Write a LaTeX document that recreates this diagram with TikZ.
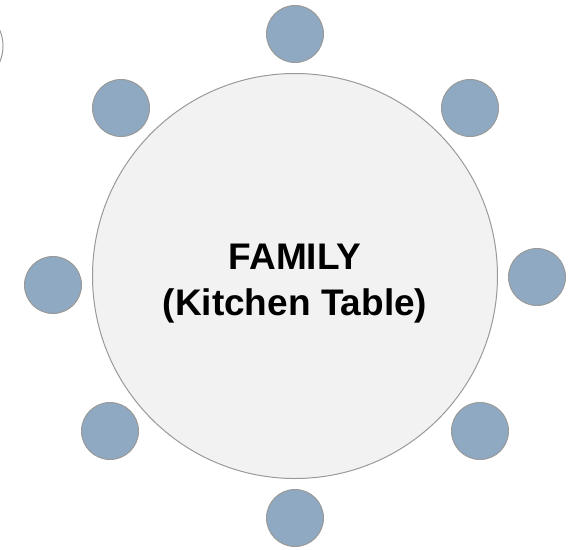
\documentclass[tikz,border=0pt]{standalone}
\usepackage{fontspec}
\setmainfont{Liberation Sans}
\usepackage{xcolor}

\definecolor{chairblue}{HTML}{8EA9C1}
\definecolor{tablegray}{HTML}{F2F2F2}
\definecolor{rimgray}{HTML}{9A9A9A}

\tikzset{
  chair/.style={circle, draw=rimgray, fill=chairblue, line width=1pt, minimum size=57pt, inner sep=0pt},
  table/.style={circle, draw=rimgray, fill=tablegray, line width=1pt, minimum size=405pt, inner sep=0pt}
}

\begin{document}
\begin{tikzpicture}[x=1pt, y=-1pt]
        \useasboundingbox (0,0) rectangle (573,549);

        % Seat cut off at the left edge
        \begin{scope}
          \clip (0,0) rectangle (573,549);
          \draw[rimgray, line width=1pt, fill=white] (-37,46) circle (40);
        \end{scope}

        % The table
        \node[table] (T) at (295,276) {};

        % Seats round the table
        \node[chair] (C1) at (295,34) {};   % Top
        \node[chair] (C2) at (470,108) {};  % Top-right
        \node[chair] (C3) at (537,277) {};  % Right
        \node[chair] (C4) at (480,431) {};  % Bottom-right
        \node[chair] (C5) at (295,518) {};  % Bottom
        \node[chair] (C6) at (110,431) {};  % Bottom-left
        \node[chair] (C7) at (53,285) {};   % Left
        \node[chair] (C8) at (121,108) {};  % Top-left

        % Label
        \node[align=center, inner sep=0pt, font=\fontsize{37}{46}\selectfont\bfseries] (L) at (295,284)
          {FAMILY\\(Kitchen Table)};
\end{tikzpicture}
\end{document}
